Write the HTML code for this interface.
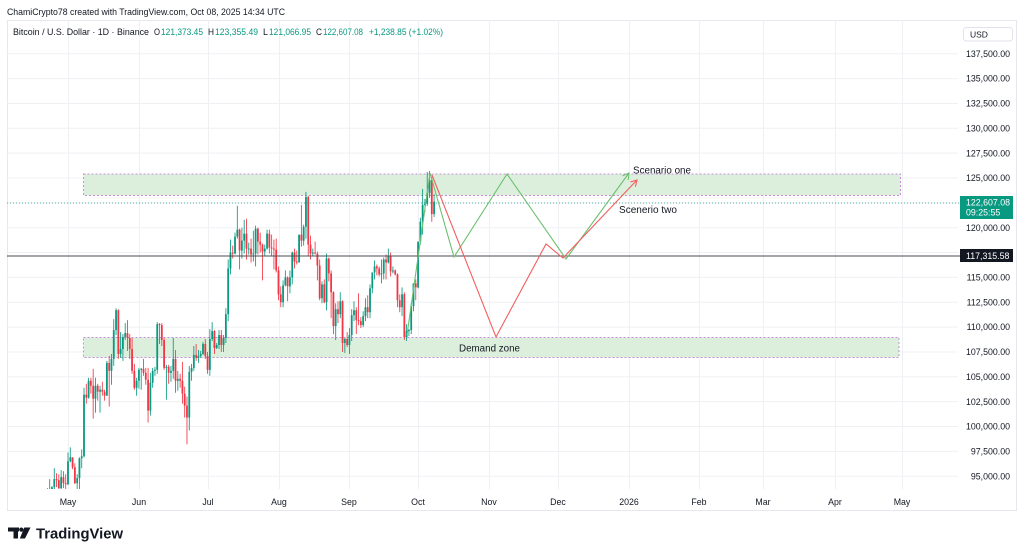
<!DOCTYPE html>
<html><head><meta charset="utf-8">
<style>
html,body{margin:0;padding:0;background:#fff;width:1024px;height:555px;overflow:hidden;}
svg{display:block;font-family:"Liberation Sans",sans-serif;}
</style></head>
<body>
<svg id="s" width="1024" height="555" viewBox="0 0 1024 555" xmlns="http://www.w3.org/2000/svg">
<defs><clipPath id="pane"><rect x="7" y="20" width="951" height="469"/></clipPath></defs>
<rect width="1024" height="555" fill="#fff"/>
<!-- frame -->
<rect x="7.5" y="20.5" width="1009" height="490" fill="none" stroke="#e6e8ee" stroke-width="1"/>
<!-- grid -->
<g stroke="#eef0f4" stroke-width="1" fill="none">
<path d="M68.5 20V489M139.5 20V489M208.5 20V489M279.5 20V489M349.5 20V489M418.5 20V489M489.5 20V489M558.5 20V489M629.5 20V489M699.5 20V489M763.5 20V489M835.5 20V489M902.5 20V489"/>
<path d="M7 53.75H958M7 78.6H958M7 103.45H958M7 128.3H958M7 153.15H958M7 178H958M7 202.85H958M7 227.7H958M7 252.55H958M7 277.4H958M7 302.25H958M7 327.1H958M7 351.95H958M7 376.8H958M7 401.65H958M7 426.5H958M7 451.35H958M7 476.2H958"/>
</g>
<!-- zones -->
<rect x="83.5" y="174" width="817" height="21.5" fill="#dcefdc" stroke="#c98fd9" stroke-width="1" stroke-dasharray="2,2"/>
<rect x="83.5" y="337.5" width="815.5" height="20" fill="#dcefdc" stroke="#c98fd9" stroke-width="1" stroke-dasharray="2,2"/>
<!-- current price dotted line -->
<line x1="7" y1="203" x2="960" y2="203" stroke="#089981" stroke-width="1" stroke-dasharray="1,2" opacity="0.7"/>
<!-- candles -->
<g id="candles" clip-path="url(#pane)"></g>
<!-- horizontal black line -->
<line x1="7" y1="256" x2="960" y2="256" stroke="#4a4d55" stroke-width="1"/>
<!-- scenario lines -->
<g fill="none" stroke-width="1.1" stroke-linejoin="miter">
<polyline points="407,335 430,173 454,257 507,174 566,259 629,173" stroke="#6cc070"/>
<polyline points="622.6,175.8 629,173 628.2,180" stroke="#6cc070"/>
<polyline points="432,175 496,337 546,244 563,258 637,180" stroke="#f25f5f"/>
<polyline points="630.3,182 637,180 635.4,186.8" stroke="#f25f5f"/>
</g>
<!-- drawing labels -->
<g fill="#131722" font-size="10">
<text x="633" y="173.5" textLength="58" lengthAdjust="spacingAndGlyphs">Scenario one</text>
<text x="619" y="213" textLength="58" lengthAdjust="spacingAndGlyphs">Scenerio two</text>
<text x="459" y="351.5" textLength="61" lengthAdjust="spacingAndGlyphs">Demand zone</text>
</g>
<!-- header -->
<text x="7" y="15" font-size="9.5" fill="#131722" textLength="278" lengthAdjust="spacingAndGlyphs">ChamiCrypto78 created with TradingView.com, Oct 08, 2025 14:34 UTC</text>
<g font-size="9" fill="#131722">
<text x="13" y="35" textLength="136" lengthAdjust="spacingAndGlyphs">Bitcoin / U.S. Dollar · 1D · Binance</text>
<text x="154" y="35" textLength="6" lengthAdjust="spacingAndGlyphs">O</text>
<text x="161" y="35" fill="#089981" textLength="42" lengthAdjust="spacingAndGlyphs">121,373.45</text>
<text x="208" y="35" textLength="6" lengthAdjust="spacingAndGlyphs">H</text>
<text x="215" y="35" fill="#089981" textLength="43" lengthAdjust="spacingAndGlyphs">123,355.49</text>
<text x="263" y="35" textLength="5" lengthAdjust="spacingAndGlyphs">L</text>
<text x="269" y="35" fill="#089981" textLength="42" lengthAdjust="spacingAndGlyphs">121,066.95</text>
<text x="316" y="35" textLength="6" lengthAdjust="spacingAndGlyphs">C</text>
<text x="323" y="35" fill="#089981" textLength="40" lengthAdjust="spacingAndGlyphs">122,607.08</text>
<text x="369" y="35" fill="#089981" textLength="74" lengthAdjust="spacingAndGlyphs">+1,238.85 (+1.02%)</text>
</g>
<!-- price axis -->
<rect x="963.5" y="27.5" width="49" height="13.5" rx="3" fill="#fff" stroke="#e0e3eb" stroke-width="1"/>
<text x="970" y="37.3" font-size="8.5" fill="#131722">USD</text>
<g font-size="8.8" fill="#131722" text-anchor="end">
<text x="1010" y="56.9">137,500.00</text>
<text x="1010" y="81.7">135,000.00</text>
<text x="1010" y="106.6">132,500.00</text>
<text x="1010" y="131.4">130,000.00</text>
<text x="1010" y="156.3">127,500.00</text>
<text x="1010" y="181.1">125,000.00</text>
<text x="1010" y="230.8">120,000.00</text>
<text x="1010" y="280.5">115,000.00</text>
<text x="1010" y="305.4">112,500.00</text>
<text x="1010" y="330.2">110,000.00</text>
<text x="1010" y="355.1">107,500.00</text>
<text x="1010" y="379.9">105,000.00</text>
<text x="1010" y="404.8">102,500.00</text>
<text x="1010" y="429.6">100,000.00</text>
<text x="1010" y="454.5">97,500.00</text>
<text x="1010" y="479.3">95,000.00</text>
</g>
<rect x="960" y="196" width="53" height="23" fill="#089981"/>
<text x="966" y="205.5" font-size="8.8" fill="#fff">122,607.08</text>
<text x="966" y="215.5" font-size="8.8" fill="#fff">09:25:55</text>
<rect x="960" y="249" width="53" height="13" fill="#131722"/>
<text x="966" y="258.8" font-size="8.8" fill="#fff">117,315.58</text>
<!-- time axis -->
<g font-size="8.8" fill="#131722" text-anchor="middle">
<text x="68" y="505">May</text>
<text x="139" y="505">Jun</text>
<text x="208" y="505">Jul</text>
<text x="279" y="505">Aug</text>
<text x="349" y="505">Sep</text>
<text x="418" y="505">Oct</text>
<text x="489" y="505">Nov</text>
<text x="558" y="505">Dec</text>
<text x="629" y="505">2026</text>
<text x="699" y="505">Feb</text>
<text x="763" y="505">Mar</text>
<text x="835" y="505">Apr</text>
<text x="902" y="505">May</text>
</g>
<!-- logo -->
<g fill="#131722">
<rect x="8" y="527.5" width="11" height="4"/>
<rect x="13.5" y="527.5" width="4.5" height="11"/>
<circle cx="21.3" cy="529.6" r="2.1"/>
<polygon points="24.3,527.5 30.5,527.5 25,538.5 19.8,538.5"/>
<text x="36" y="538.5" font-size="15" font-weight="bold" textLength="87" lengthAdjust="spacingAndGlyphs">TradingView</text>
</g>
</svg>
<script>
(function(){
var D=[
[87.5,93.8,87.1,93.4],[93.4,94.7,91.9,93.7],[93.7,94.0,91.7,93.9],[93.9,95.8,92.9,94.7],[94.7,95.3,93.9,94.6],[94.6,95.2,93.0,93.8],[93.8,95.6,92.8,94.9],[94.9,95.5,93.8,94.3],[94.3,95.2,92.9,94.2],
[94.2,97.4,94.1,96.5],[96.5,97.9,96.4,96.9],[96.9,96.9,95.7,95.9],[95.9,96.3,94.2,94.3],[94.3,95.2,93.6,94.8],[94.8,96.9,93.4,96.8],[96.8,97.7,95.8,97.0],[97.0,103.9,96.9,103.2],[103.2,104.3,102.3,102.9],[102.9,104.9,102.8,104.6],
[104.6,104.9,103.3,104.1],[104.1,105.8,100.8,102.8],[102.8,104.9,101.4,104.1],[104.1,104.3,102.6,103.5],[103.5,104.1,101.4,103.7],[103.7,104.5,103.1,103.5],[103.5,103.7,102.6,103.1],[103.1,106.6,103.1,106.4],[106.4,107.1,102.0,105.6],[105.6,107.3,104.2,106.8],
[106.8,110.8,106.1,109.7],[109.7,111.9,109.2,111.7],[111.7,111.8,106.8,107.3],[107.3,109.5,106.9,107.8],[107.8,109.3,106.6,109.0],[109.0,110.4,108.7,109.4],[109.4,110.7,107.6,108.9],[108.9,109.3,106.8,107.8],[107.8,108.9,105.3,105.6],[105.6,106.3,103.7,103.9],[103.9,104.9,103.1,104.6],
[104.6,105.9,103.8,105.7],[105.7,105.9,103.7,105.8],[105.8,106.8,105.1,105.4],[105.4,105.9,104.2,104.7],[104.7,105.9,100.4,101.6],[101.6,105.4,101.1,104.4],[104.4,105.9,103.9,105.6],[105.6,106.0,105.1,105.7],[105.7,110.5,105.3,110.3],[110.3,110.4,108.3,110.2],
[110.2,110.4,108.1,108.7],[108.7,108.9,105.7,105.9],[105.9,106.2,102.7,106.0],[106.0,106.2,104.3,105.4],[105.4,106.1,104.5,105.6],[105.6,108.9,104.8,106.8],[106.8,107.7,103.4,104.6],[104.6,105.6,103.6,104.8],[104.8,105.3,103.9,104.6],[104.6,106.5,102.3,103.3],
[103.3,104.0,100.9,102.1],[102.1,103.0,98.2,100.9],[100.9,106.1,99.6,105.5],[105.5,106.3,104.6,105.9],[105.9,108.1,105.6,107.2],[107.2,108.3,106.6,106.9],[106.9,107.7,106.4,107.1],[107.1,107.6,106.9,107.3],[107.3,108.5,107.2,108.3],[108.3,108.8,106.8,107.1],
[107.1,107.5,105.3,105.7],[105.7,109.8,105.1,108.8],[108.8,110.5,108.6,109.6],[109.6,109.7,107.3,107.9],[107.9,108.4,107.8,108.2],[108.2,109.7,107.8,109.2],[109.2,109.7,107.5,108.2],[108.2,109.2,107.5,108.9],[108.9,111.9,108.4,111.3],[111.3,116.8,110.6,115.9],
[115.9,118.8,115.3,117.5],[117.5,118.2,116.9,117.4],[117.4,119.5,117.3,119.1],[119.1,122.2,118.9,119.8],[119.8,119.9,115.8,117.7],[117.7,120.0,116.9,118.7],[118.7,120.8,117.4,119.4],[119.4,120.9,116.8,117.9],[117.9,118.5,117.3,117.9],[117.9,118.9,116.5,117.3],
[117.3,119.7,116.6,117.4],[117.4,120.2,116.1,119.9],[119.9,120.0,117.3,118.6],[118.6,119.5,117.5,118.3],[118.3,118.4,114.7,117.6],[117.6,118.3,117.2,117.9],[117.9,119.8,117.8,119.4],[119.4,119.8,117.4,118.0],[118.0,119.3,117.1,117.9],[117.9,118.8,115.8,117.8],[117.8,118.9,115.5,115.7],
[115.7,116.1,112.7,113.3],[113.3,114.1,112.0,112.5],[112.5,114.7,112.0,114.2],[114.2,115.7,114.1,115.0],[115.0,115.1,112.6,114.1],[114.1,115.7,113.4,115.0],[115.0,117.6,114.3,117.5],[117.5,117.9,115.9,116.6],[116.6,117.7,116.3,116.5],[116.5,119.3,116.5,119.3],
[119.3,122.3,118.1,118.7],[118.7,120.3,118.2,120.1],[120.1,123.6,118.9,123.1],[123.1,123.2,117.2,118.3],[118.3,119.2,116.8,117.4],[117.4,117.9,117.2,117.5],[117.5,118.6,117.3,117.4],[117.4,117.6,114.7,116.2],[116.2,116.8,112.7,112.9],[112.9,114.6,112.4,114.3],
[114.3,114.8,112.4,112.5],[112.5,117.4,111.7,116.9],[116.9,117.0,114.6,115.4],[115.4,115.7,110.9,113.5],[113.5,113.6,109.3,110.1],[110.1,112.4,108.7,111.8],[111.8,112.6,110.4,111.3],[111.3,113.5,110.9,112.6],[112.6,112.7,107.5,108.4],[108.4,108.9,107.4,108.8],[108.8,109.5,108.0,108.2],
[108.2,109.9,107.3,109.2],[109.2,111.8,108.6,111.2],[111.2,112.6,110.6,111.7],[111.7,112.0,109.3,110.7],[110.7,113.4,110.2,110.6],[110.6,111.0,109.9,110.2],[110.2,111.6,110.0,111.1],[111.1,112.9,110.6,112.0],[112.0,113.2,110.9,111.5],[111.5,114.3,110.9,113.9],
[113.9,115.5,113.4,115.5],[115.5,116.7,114.8,116.1],[116.1,116.3,115.2,115.9],[115.9,116.1,115.1,115.3],[115.3,116.8,114.4,115.4],[115.4,117.0,114.8,116.8],[116.8,117.3,114.8,116.5],[116.5,117.9,116.4,117.1],[117.1,117.5,115.1,115.6],[115.6,116.1,115.4,115.7],
[115.7,115.8,115.2,115.3],[115.3,115.4,112.0,112.7],[112.7,113.3,111.5,112.0],[112.0,114.0,111.1,113.3],[113.3,113.5,108.7,109.0],[109.0,110.3,108.6,109.6],[109.6,109.8,109.1,109.7],[109.7,112.4,109.3,112.1],[112.1,114.4,111.6,114.4],[114.4,114.8,112.7,114.0],
[114.0,118.6,113.9,118.6],[118.6,121.0,118.3,120.6],[120.6,123.9,119.3,122.3],[122.3,122.9,121.6,122.4],[122.4,125.6,122.2,123.5],[123.5,125.7,123.0,124.8],[124.8,125.1,120.6,121.37],[121.37,123.36,121.07,122.61]
];
var g=document.getElementById('candles'),NS='http://www.w3.org/2000/svg';
function Y(p){return 178+(125-p)*9.94;}
for(var i=0;i<D.length;i++){
 var c=D[i],d=i-9,x=68+d*2.288;
 var up=c[3]>=c[0],col=up?'#089981':'#f23645';
 var w=document.createElementNS(NS,'line');
 w.setAttribute('x1',x);w.setAttribute('x2',x);
 w.setAttribute('y1',Y(c[1]));w.setAttribute('y2',Y(c[2]));
 w.setAttribute('stroke',col);w.setAttribute('stroke-width','0.85');
 g.appendChild(w);
 var t=Y(Math.max(c[0],c[3])),b=Y(Math.min(c[0],c[3]));
 var r=document.createElementNS(NS,'rect');
 r.setAttribute('x',x-0.9);r.setAttribute('width',1.8);
 r.setAttribute('y',t);r.setAttribute('height',Math.max(0.9,b-t));
 r.setAttribute('fill',col);
 g.appendChild(r);
}
})();
</script>
</body></html>
